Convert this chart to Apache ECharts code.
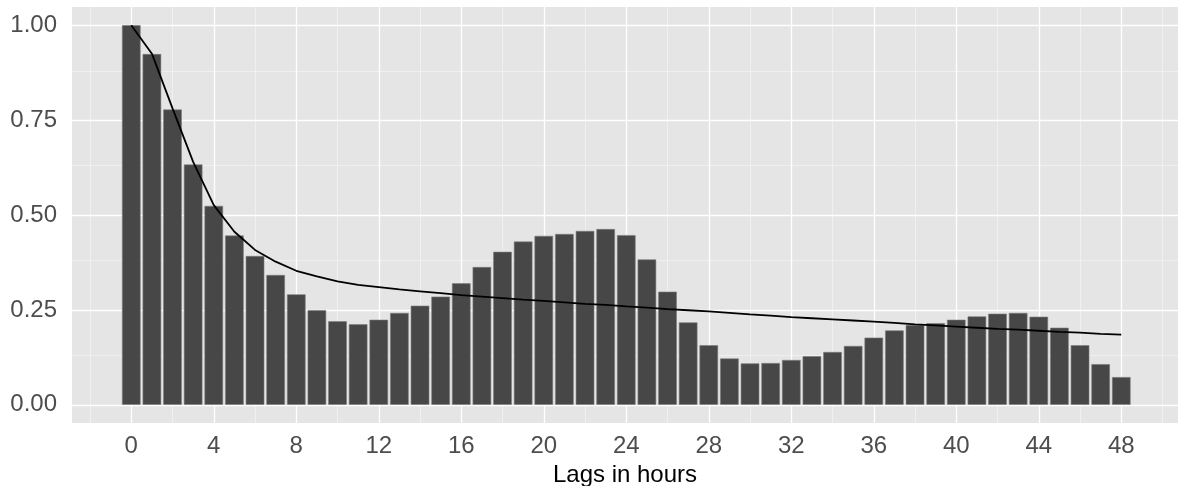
<!DOCTYPE html>
<html>
<head>
<meta charset="utf-8">
<title>Autocorrelation by lag</title>
<script src="https://cdn.jsdelivr.net/npm/echarts@6/dist/echarts.min.js"></script>
<style>
  html, body { margin: 0; padding: 0; background: #ffffff; }
  #chart { width: 1178px; height: 486px; }
</style>
</head>
<body>
<div id="chart"></div>
<script>
// Lag (hours) for each bar
const lags = [0, 1, 2, 3, 4, 5, 6, 7, 8, 9, 10, 11, 12, 13, 14, 15, 16, 17, 18, 19,
  20, 21, 22, 23, 24, 25, 26, 27, 28, 29, 30, 31, 32, 33, 34, 35, 36, 37, 38, 39,
  40, 41, 42, 43, 44, 45, 46, 47, 48];

// Observed autocorrelation at each lag
const acf = [1.000, 0.924, 0.778, 0.633, 0.524, 0.446, 0.392, 0.342, 0.291, 0.249,
  0.220, 0.212, 0.224, 0.242, 0.261, 0.285, 0.320, 0.363, 0.403, 0.430,
  0.445, 0.450, 0.458, 0.463, 0.447, 0.383, 0.298, 0.217, 0.157, 0.122,
  0.109, 0.110, 0.118, 0.128, 0.139, 0.155, 0.177, 0.196, 0.210, 0.215,
  0.224, 0.233, 0.240, 0.242, 0.232, 0.203, 0.157, 0.107, 0.073];

// Fitted decay curve at each lag
const fitted = [1.000, 0.925, 0.781, 0.640, 0.526, 0.456, 0.408, 0.377, 0.353, 0.338,
  0.325, 0.316, 0.310, 0.304, 0.299, 0.294, 0.289, 0.285, 0.281, 0.277,
  0.274, 0.270, 0.266, 0.263, 0.259, 0.256, 0.252, 0.249, 0.246, 0.242,
  0.238, 0.235, 0.231, 0.228, 0.225, 0.222, 0.219, 0.216, 0.212, 0.209,
  0.206, 0.203, 0.200, 0.198, 0.195, 0.192, 0.190, 0.187, 0.185];

// Axis breaks
const xTicks = [0, 4, 8, 12, 16, 20, 24, 28, 32, 36, 40, 44, 48];
const xMinor = [-2, 2, 6, 10, 14, 18, 22, 26, 30, 34, 38, 42, 46, 50];
const yTicks = [0, 0.25, 0.5, 0.75, 1.0];
const yMinor = [0.125, 0.375, 0.625, 0.875];
const xTitle = 'Lags in hours';

const FONT = '"Liberation Sans", Arial, Helvetica, sans-serif';

const majorStyle = { color: '#ffffff', width: 1.3, type: 'solid' };
const minorStyle = { color: '#f0f0f0', width: 0.9, type: 'solid' };

const gridLines = [];
xMinor.forEach(v => gridLines.push({ xAxis: v, lineStyle: minorStyle }));
yMinor.forEach(v => gridLines.push({ yAxis: v, lineStyle: minorStyle }));
xTicks.forEach(v => gridLines.push({ xAxis: v, lineStyle: majorStyle }));
yTicks.forEach(v => gridLines.push({ yAxis: v, lineStyle: majorStyle }));

const chart = echarts.init(document.getElementById('chart'), null, { renderer: 'canvas' });

chart.setOption({
  animation: false,
  backgroundColor: '#ffffff',
  grid: {
    left: 72, right: 0, top: 7, bottom: 63,
    containLabel: false,
    outerBoundsMode: 'none',
    show: true, backgroundColor: '#e5e5e5', borderWidth: 0
  },
  xAxis: {
    type: 'value',
    min: -2.874, max: 50.75,
    axisLine: { show: false },
    axisTick: { show: true, length: 11, customValues: xTicks, lineStyle: { color: '#7a7a7a', width: 1 } },
    axisLabel: { customValues: xTicks, margin: 11, color: '#4d4d4d', fontSize: 24, fontFamily: FONT },
    splitLine: { show: false },
    name: xTitle,
    nameLocation: 'middle',
    nameGap: 33,
    nameTextStyle: { color: '#000000', fontSize: 24, fontFamily: FONT }
  },
  yAxis: {
    type: 'value',
    min: -0.048, max: 1.048,
    axisLine: { show: false },
    axisTick: { show: true, length: 11, customValues: yTicks, lineStyle: { color: '#7a7a7a', width: 1 } },
    axisLabel: {
      customValues: yTicks, margin: 15, color: '#4d4d4d', fontSize: 24, fontFamily: FONT,
      formatter: v => v.toFixed(2)
    },
    splitLine: { show: false }
  },
  series: [
    {
      type: 'bar',
      z: 2,
      barWidth: '90%',
      data: lags.map((l, i) => [l, acf[i]]),
      itemStyle: { color: '#474747', borderColor: '#7c7c7c', borderWidth: 0.6 },
      markLine: {
        z: 1,
        silent: true,
        symbol: ['none', 'none'],
        label: { show: false },
        emphasis: { disabled: true },
        data: gridLines
      }
    },
    {
      type: 'line',
      z: 3,
      data: lags.map((l, i) => [l, fitted[i]]),
      showSymbol: false,
      symbol: 'none',
      lineStyle: { color: '#000000', width: 1.8 },
      itemStyle: { color: '#000000' }
    }
  ]
});
</script>
</body>
</html>
